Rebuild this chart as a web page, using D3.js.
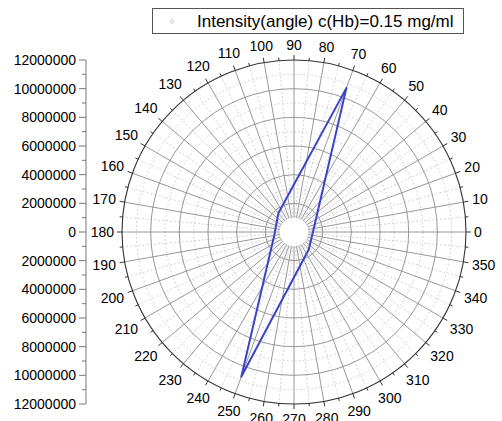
<!DOCTYPE html>
<html>
<head>
<meta charset="utf-8">
<script src="https://cdn.jsdelivr.net/npm/d3@7/dist/d3.min.js"></script>
<style>
  html, body { margin: 0; padding: 0; background: #fff; }
  svg { display: block; font-family: Arial, "Liberation Sans", sans-serif; }
</style>
</head>
<body>
<svg id="chart" width="502" height="421"></svg>
<script>
// Measured scattering intensity vs. detector angle
const angles = [10, 70, 130, 190, 250, 310];
const intensity = [1400000, 10700000, 1700000, 1400000, 10750000, 1600000];
const seriesName = "Intensity(angle) c(Hb)=0.15 mg/ml";

// Axis ticks
const radialMajor = [0, 2000000, 4000000, 6000000, 8000000, 10000000, 12000000];
const angleLabels = d3.range(0, 360, 10);

const W = 502, H = 421;
const cx = 294, cy = 232, R = 172;
const rMax = 12000000;

const svg = d3.select("#chart");

const r = d3.scaleLinear().domain([0, rMax]).range([0, R]);
const toRad = d => d * Math.PI / 180;
const px = (a, v) => cx + r(v) * Math.cos(toRad(a));
const py = (a, v) => cy - r(v) * Math.sin(toRad(a));

const g = svg.append("g");

// Minor circles (dashed)
const minorCircles = d3.range(3000000, rMax, 2000000);
g.selectAll("circle.minor").data(minorCircles).join("circle")
  .attr("cx", cx).attr("cy", cy).attr("r", d => r(d))
  .attr("fill", "none").attr("stroke", "#c8c8c8")
  .attr("stroke-width", 0.8).attr("stroke-dasharray", "2,2");

// Minor spokes every 5 degrees (dashed)
const inner = 1000000;
g.selectAll("line.minorSpoke").data(d3.range(5, 360, 10)).join("line")
  .attr("x1", d => px(d, inner)).attr("y1", d => py(d, inner))
  .attr("x2", d => px(d, rMax)).attr("y2", d => py(d, rMax))
  .attr("stroke", "#c8c8c8").attr("stroke-width", 0.8)
  .attr("stroke-dasharray", "2,2");

// Major spokes every 10 degrees
g.selectAll("line.majorSpoke").data(angleLabels).join("line")
  .attr("x1", d => px(d, inner)).attr("y1", d => py(d, inner))
  .attr("x2", d => px(d, rMax)).attr("y2", d => py(d, rMax))
  .attr("stroke", "#8c8c8c").attr("stroke-width", 0.9);

// Major circles
g.selectAll("circle.major").data(radialMajor.filter(d => d > 0 && d < rMax)).join("circle")
  .attr("cx", cx).attr("cy", cy).attr("r", d => r(d))
  .attr("fill", "none").attr("stroke", "#8c8c8c").attr("stroke-width", 0.9);

// Outer circle with angular ticks
g.append("circle").attr("cx", cx).attr("cy", cy).attr("r", R)
  .attr("fill", "none").attr("stroke", "#333").attr("stroke-width", 1.1);

g.selectAll("line.atick").data(d3.range(0, 360, 5)).join("line")
  .attr("x1", d => cx + R * Math.cos(toRad(d)))
  .attr("y1", d => cy - R * Math.sin(toRad(d)))
  .attr("x2", d => cx + (R + (d % 10 === 0 ? 5 : 3)) * Math.cos(toRad(d)))
  .attr("y2", d => cy - (R + (d % 10 === 0 ? 5 : 3)) * Math.sin(toRad(d)))
  .attr("stroke", "#333").attr("stroke-width", 1);

// Angle labels outside the circle
const fsA = 14;
angleLabels.forEach(a => {
  const t = g.append("text").text(a)
    .attr("font-size", fsA).attr("fill", "#000")
    .attr("text-anchor", "middle").attr("dominant-baseline", "central");
  const w = t.node().getComputedTextLength();
  const h = fsA * 0.95;
  const c = Math.cos(toRad(a)), s = Math.sin(toRad(a));
  const d = R + 8 + (w / 2) * Math.abs(c) + (h / 2) * Math.abs(s);
  t.attr("x", cx + d * c).attr("y", cy - d * s);
});

// Data polygon
const pts = angles.map((a, i) => [px(a, intensity[i]), py(a, intensity[i])]);
g.append("path")
  .attr("d", d3.line().curve(d3.curveLinearClosed)(pts))
  .attr("fill", "none").attr("stroke", "#3b44c8").attr("stroke-width", 2)
  .attr("stroke-linejoin", "round");

// Left radial axis (mirrored above and below the centre)
const y = d3.scaleLinear().domain([rMax, -rMax]).range([cy - R, cy + R]);
const axX = 86;
const ax = svg.append("g").attr("transform", `translate(${axX},0)`);
ax.append("line").attr("x1", 0).attr("x2", 0)
  .attr("y1", y(rMax)).attr("y2", y(-rMax))
  .attr("stroke", "#777").attr("stroke-width", 1);
const majorTicks = d3.range(-rMax, rMax + 1, 2000000);
const minorTicks = d3.range(-rMax + 1000000, rMax, 2000000);
ax.selectAll("line.mt").data(majorTicks).join("line")
  .attr("x1", -7).attr("x2", 0)
  .attr("y1", d => y(d)).attr("y2", d => y(d))
  .attr("stroke", "#777").attr("stroke-width", 1);
ax.selectAll("line.nt").data(minorTicks).join("line")
  .attr("x1", -4).attr("x2", 0)
  .attr("y1", d => y(d)).attr("y2", d => y(d))
  .attr("stroke", "#777").attr("stroke-width", 1);
ax.selectAll("text").data(majorTicks).join("text")
  .attr("x", -10).attr("y", d => y(d))
  .attr("text-anchor", "end").attr("dominant-baseline", "central")
  .attr("font-size", 14).attr("fill", "#000")
  .text(d => String(Math.abs(d)));

// Legend
const lg = svg.append("g");
lg.append("rect").attr("x", 152.5).attr("y", 8.5).attr("width", 311).attr("height", 25)
  .attr("fill", "#fff").attr("stroke", "#555").attr("stroke-width", 1);
lg.append("circle").attr("cx", 172).attr("cy", 21.5).attr("r", 1.6)
  .attr("fill", "none").attr("stroke", "#bbb").attr("stroke-width", 0.8);
lg.append("text").attr("x", 197).attr("y", 21.5)
  .attr("dominant-baseline", "central").attr("font-size", 17).attr("fill", "#000")
  .text(seriesName);
</script>
</body>
</html>
